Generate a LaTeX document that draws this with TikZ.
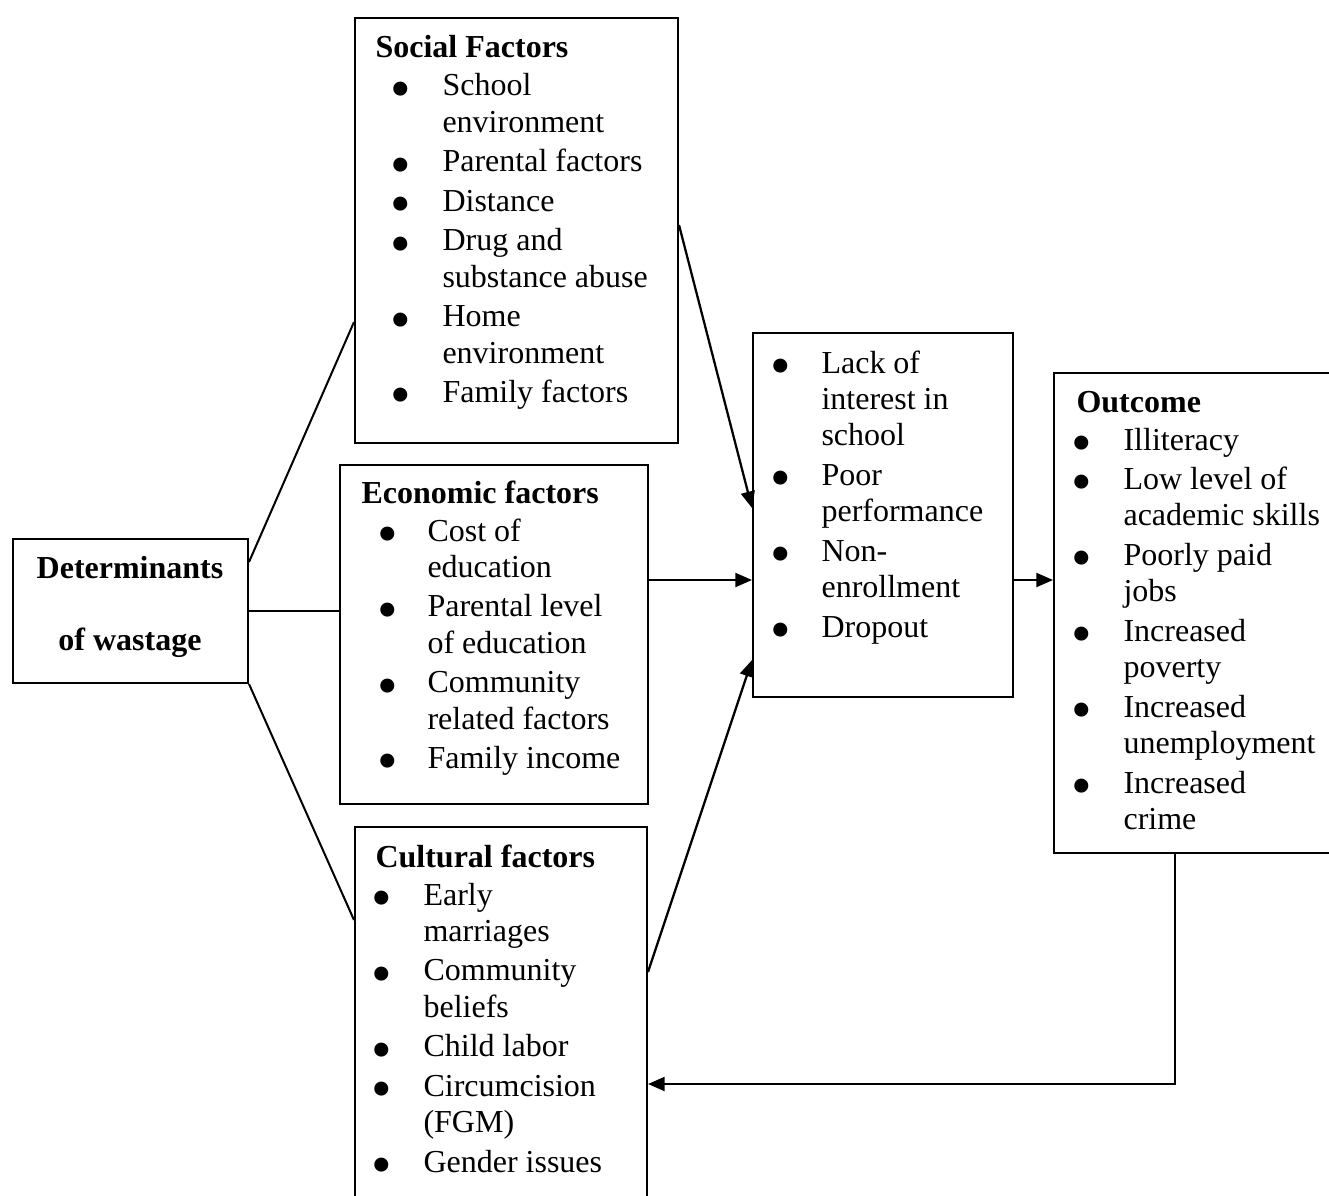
\documentclass[tikz,border=0pt]{standalone}
\usepackage{fontspec}
\setmainfont{Liberation Serif}
\usetikzlibrary{arrows.meta,positioning}

\newlength\pxl \setlength\pxl{0.375pt}
\newlength\bulpre \newlength\bulind
\newlength\ig \setlength\ig{1.16pt}
\newlength\hg \setlength\hg{0.6pt}
\newcommand\bulsym{\raisebox{-4.6pt}[0pt][0pt]{\fontsize{22pt}{0pt}\selectfont\textbullet}}
\newcommand\bl[1]{\makebox[\bulind][l]{\hspace*{\bulpre}\bulsym}#1}
\newcommand\cl[1]{\hspace*{\bulind}#1}

\tikzset{
  box/.style 2 args={draw, line width=0.75pt, rectangle, inner sep=0pt,
    anchor=north west, minimum width=#1*\pxl, minimum height=#2*\pxl},
  txt/.style={inner sep=0pt, font=\fontsize{12pt}{13.65pt}\selectfont},
  items/.style 2 args={txt, anchor=base west,
    execute at begin node={\setlength\bulpre{#1\pxl}\setlength\bulind{#2\pxl}}},
  link/.style={line width=0.75pt},
  arr/.style={line width=0.85pt, -{Triangle[length=6.2pt,width=5.2pt]}}
}

\begin{document}
\begin{tikzpicture}[x=\pxl, y=-\pxl]
            \useasboundingbox (0,0) rectangle (1329,1195);

            % Boxes
            \node[box={235}{144}] (det) at (12,538) {};
            \node[box={323}{425}] (social) at (354,17) {};
            \node[box={308}{339}] (econ) at (339,464) {};
            \node[box={292}{380}] (cult) at (354,826) {};
            \node[box={260}{364}] (mid) at (752,332) {};
            \node[box={285}{480}] (outc) at (1053,372) {};

            % Determinants
            \node[txt, anchor=base] (dettxt) at (130,578) {\begin{tabular}[t]{@{}c@{}}
              \textbf{Determinants}\\[35.6\pxl]
              \textbf{of wastage}
            \end{tabular}};

            % Social factors
            \node[items={15}{67}] (socialtxt) at (375,58) {\begin{tabular}[t]{@{}l@{}}
              \textbf{Social Factors}\\[\hg]
              \bl{School}\\
              \cl{environment}\\[\ig]
              \bl{Parental factors}\\[\ig]
              \bl{Distance}\\[\ig]
              \bl{Drug and}\\
              \cl{substance abuse}\\[\ig]
              \bl{Home}\\
              \cl{environment}\\[\ig]
              \bl{Family factors}
            \end{tabular}};

            % Economic factors
            \node[items={16}{66}] (econtxt) at (361,503) {\begin{tabular}[t]{@{}l@{}}
              \textbf{Economic factors}\\[\hg]
              \bl{Cost of}\\
              \cl{education}\\[\ig]
              \bl{Parental level}\\
              \cl{of education}\\[\ig]
              \bl{Community}\\
              \cl{related factors}\\[\ig]
              \bl{Family income}
            \end{tabular}};

            % Cultural factors
            \node[items={-4}{48}] (culttxt) at (375,867) {\begin{tabular}[t]{@{}l@{}}
              \textbf{Cultural factors}\\[\hg]
              \bl{Early}\\
              \cl{marriages}\\[\ig]
              \bl{Community}\\
              \cl{beliefs}\\[\ig]
              \bl{Child labor}\\[\ig]
              \bl{Circumcision}\\
              \cl{(FGM)}\\[\ig]
              \bl{Gender issues}
            \end{tabular}};

            % Wastage
            \node[items={-1}{50}] (midtxt) at (771,373) {\begin{tabular}[t]{@{}l@{}}
              \bl{Lack of}\\
              \cl{interest in}\\
              \cl{school}\\[\ig]
              \bl{Poor}\\
              \cl{performance}\\[\ig]
              \bl{Non-}\\
              \cl{enrollment}\\[\ig]
              \bl{Dropout}
            \end{tabular}};

            % Outcome
            \node[items={-5}{47}] (outctxt) at (1076,412) {\begin{tabular}[t]{@{}l@{}}
              \textbf{Outcome}\\[\hg]
              \bl{Illiteracy}\\[\ig]
              \bl{Low level of}\\
              \cl{academic skills}\\[\ig]
              \bl{Poorly paid}\\
              \cl{jobs}\\[\ig]
              \bl{Increased}\\
              \cl{poverty}\\[\ig]
              \bl{Increased}\\
              \cl{unemployment}\\[\ig]
              \bl{Increased}\\
              \cl{crime}
            \end{tabular}};

            % Links from the determinants
            \draw[link] (det.east |- 0,562) -- (social.west |- 0,322);
            \draw[link] (det.east) -- (det.east -| econ.west);
            \draw[link] (det.south east) -- (cult.west |- 0,920);

            % Arrows into the middle box
            \draw[arr] (social.east |- 0,225) -- (mid.west |- 0,508);
            \draw[arr] (econ.east |- 0,580) -- (mid.west |- 0,580);
            \draw[arr] (cult.east |- 0,972) -- (mid.west |- 0,660);
            \draw[arr] (mid.east |- 0,580) -- (outc.west |- 0,580);

            % Feedback to the cultural factors
            \draw[arr] (1175,0 |- outc.south) |- (cult.east |- 0,1084);
        \end{tikzpicture}
\end{document}
